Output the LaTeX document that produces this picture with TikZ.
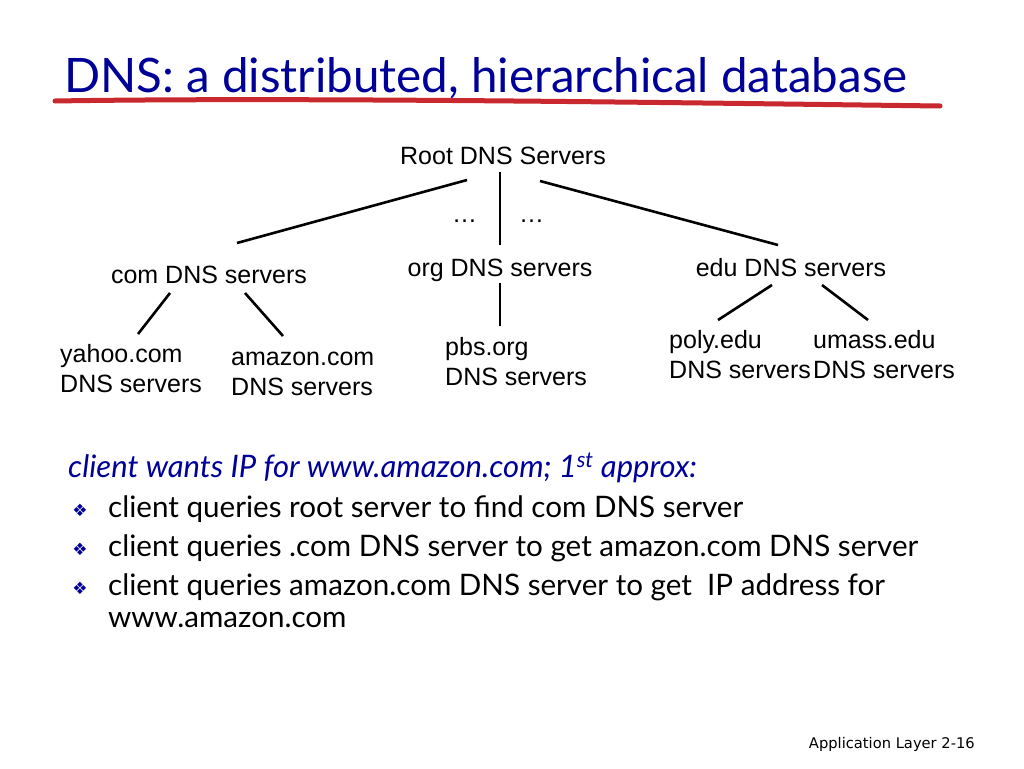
\documentclass[tikz,border=0pt]{standalone}
\usepackage{fontspec}
\setmainfont{Lato}
\newfontfamily\arial{Liberation Sans}
\newfontfamily\dejavu{DejaVu Sans}
\definecolor{navy}{RGB}{0,0,153}
\definecolor{redline}{RGB}{200,40,46}
\begin{document}
\begin{tikzpicture}[x=1pt,y=-1pt,
  diag/.style={font=\arial\fontsize{25}{30}\selectfont, inner sep=0pt, anchor=base west, align=left},
  body/.style={font=\fontsize{29.6}{36}\selectfont, inner sep=0pt, anchor=base west},
  bul/.style={font=\dejavu\fontsize{17}{18}\selectfont, text=navy, inner sep=0pt, anchor=base},
  edge/.style={line width=2.6pt}]
\useasboundingbox (0,0) rectangle (1024,768);
\fill[white] (0,0) rectangle (1024,768);
% title
\node[font=\fontsize{47.5}{54}\selectfont, text=navy, inner sep=0pt, anchor=base west] (title) at (64,92) {DNS: a distributed, hierarchical database};
\coordinate (ul1) at (55,101);
\coordinate (ul2) at (940,106);
\draw[redline, line width=5pt, line cap=round] (ul1) .. controls (300,97) and (700,103) .. (ul2);
% tree
\node[diag, anchor=base] (root) at (503,164) {Root DNS Servers};
\node[diag, anchor=base] (com) at (209,283) {com DNS servers};
\node[diag, anchor=base] (org) at (500,276) {org DNS servers};
\node[diag, anchor=base] (edu) at (791,276) {edu DNS servers};
\node[diag] (dots1) at (452,222) {\dots};
\node[diag] (dots2) at (519,222) {\dots};
\coordinate (r1) at (467,180); \coordinate (c0) at (237,243);
\coordinate (r2) at (500,172); \coordinate (o0) at (500,245);
\coordinate (r3) at (540,181); \coordinate (e0) at (778,245);
\draw[edge] (r1) -- (c0);
\draw[edge] (r2) -- (o0);
\draw[edge] (r3) -- (e0);
\node[diag] (yahoo) at (60,392.5) {yahoo.com\\DNS servers};
\node[diag] (amazon) at (231,395.5) {amazon.com\\DNS servers};
\node[diag] (pbs) at (445,385) {pbs.org\\DNS servers};
\node[diag] (poly) at (669,378.5) {poly.edu\\DNS servers};
\node[diag] (umass) at (813,378.5) {umass.edu\\DNS servers};
\coordinate (c1) at (170,293); \coordinate (y0) at (138,334);
\coordinate (c2) at (245,293); \coordinate (a0) at (283,336);
\coordinate (o1) at (500,283); \coordinate (p0) at (500,326);
\coordinate (e1) at (772,285); \coordinate (pl0) at (718,320);
\coordinate (e2) at (822,285); \coordinate (u0) at (868,320);
\draw[edge] (c1) -- (y0);
\draw[edge] (c2) -- (a0);
\draw[edge] (o1) -- (p0);
\draw[edge] (e1) -- (pl0);
\draw[edge] (e2) -- (u0);
% text
\node[body, text=navy, font=\itshape\fontsize{31}{36}\selectfont] (head) at (68,477) {client wants IP for www.amazon.com; 1\textsuperscript{st} approx:};
\node[bul] (b1) at (80,516) {❖};
\node[bul] (b2) at (80,555) {❖};
\node[bul] (b3) at (80,594) {❖};
\node[body] (t1) at (108,517) {client queries root server to find com DNS server};
\node[body] (t2) at (108,556) {client queries .com DNS server to get amazon.com DNS server};
\node[body] (t3) at (108,595) {client queries amazon.com DNS server to get\ \ IP address for};
\node[body] (t4) at (108,627) {www.amazon.com};
\node[font=\dejavu\fontsize{14.7}{18}\selectfont, inner sep=0pt, anchor=base east] (foot) at (975,748) {Application Layer 2-16};
\end{tikzpicture}
\end{document}
